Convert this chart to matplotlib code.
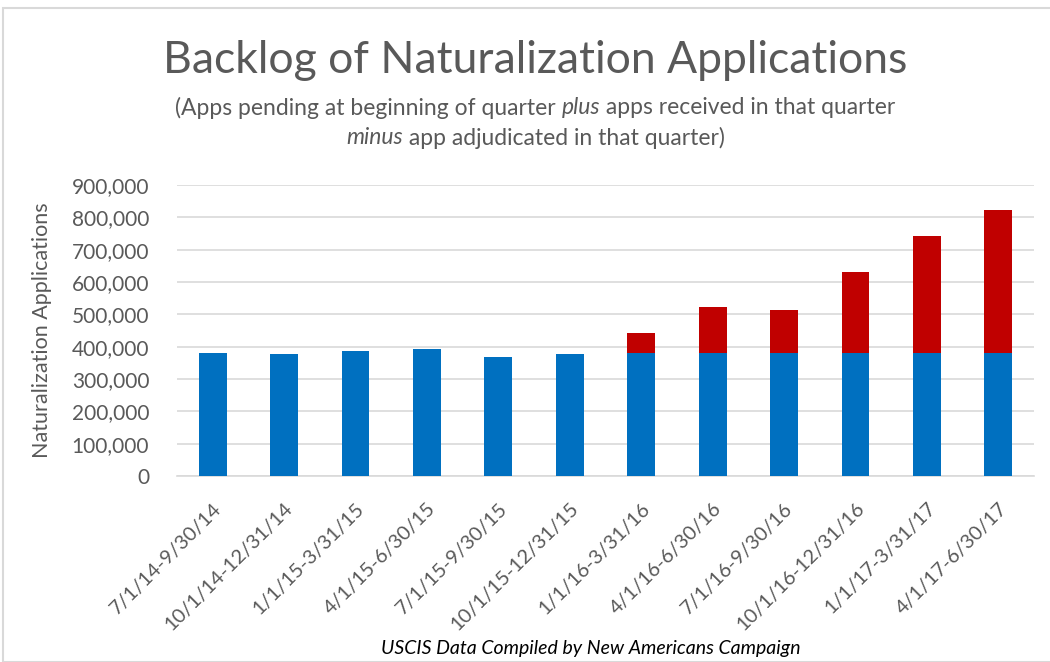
import matplotlib
matplotlib.use('Agg')
import matplotlib.pyplot as plt
from matplotlib.patches import Rectangle
import numpy as np

plt.rcParams['font.family'] = ['Lato', 'DejaVu Sans']

# データ
quarters = ['7/1/14-9/30/14', '10/1/14-12/31/14', '1/1/15-3/31/15', '4/1/15-6/30/15',
            '7/1/15-9/30/15', '10/1/15-12/31/15', '1/1/16-3/31/16', '4/1/16-6/30/16',
            '7/1/16-9/30/16', '10/1/16-12/31/16', '1/1/17-3/31/17', '4/1/17-6/30/17']
base = [380000, 378000, 387000, 393000, 368000, 377000,
        380000, 380000, 380000, 380000, 380000, 380000]
extra = [0, 0, 0, 0, 0, 0, 62000, 143000, 133000, 251000, 361000, 442000]
yticks = [0, 100000, 200000, 300000, 400000, 500000, 600000, 700000, 800000, 900000]

BLUE = '#0070C0'
RED = '#C00000'
GRAY = '#595959'
W, H = 1050, 662

fig = plt.figure(figsize=(10.5, 6.62), dpi=100)
ax = fig.add_axes([177 / W, 0.281, 857 / W, 0.4395])

x = np.arange(len(quarters))
ax.bar(x, base, width=0.39, color=BLUE, zorder=3)
ax.bar(x, extra, width=0.39, bottom=base, color=RED, zorder=3)

ax.set_ylim(0, 900000)
ax.set_xlim(-0.5, len(quarters) - 0.5)
ax.set_yticks(yticks)
ax.set_yticklabels([f'{v:,}' for v in yticks])
ax.yaxis.grid(True, color='#D9D9D9', linewidth=1.2, zorder=0)
ax.set_axisbelow(True)
for s in ['top', 'right', 'left']:
    ax.spines[s].set_visible(False)
ax.spines['bottom'].set_color('#D9D9D9')
ax.spines['bottom'].set_linewidth(1.2)
ax.tick_params(axis='both', length=0, colors=GRAY)
ax.tick_params(axis='y', pad=20, labelsize=15)
ax.set_xticks(x)
ax.set_xticklabels(quarters, rotation=45, ha='right', rotation_mode='anchor')
ax.tick_params(axis='x', pad=17, labelsize=14.5)
ax.set_ylabel('Naturalization Applications', color=GRAY, fontsize=15.5, labelpad=14)

# タイトル
fig.text(0.51, 0.908, 'Backlog of Naturalization Applications', ha='center', va='center',
         fontsize=32, color=GRAY)


def centered_line(parts, y, size):
    # 斜体を含む行を中央揃えで描く
    renderer = fig.canvas.get_renderer()
    texts = []
    for s, style in parts:
        t = fig.text(0, y, s, fontsize=size, color=GRAY, style=style, va='center')
        texts.append(t)
    widths = [t.get_window_extent(renderer).width for t in texts]
    total = sum(widths)
    start = 0.51 * fig.bbox.width - total / 2
    for t, w in zip(texts, widths):
        t.set_x(start / fig.bbox.width)
        start += w


centered_line([('(Apps pending at beginning of quarter ', 'normal'), ('plus', 'italic'),
               (' apps received in that quarter', 'normal')], 0.837, 16.5)
centered_line([('minus', 'italic'), (' app adjudicated in that quarter)', 'normal')], 0.792, 16.5)

fig.text(0.563, 0.02, 'USCIS Data Compiled by New Americans Campaign', ha='center', va='center',
         fontsize=14, style='italic', color='black')

fig.patches.append(Rectangle((3 / W, 0), 1.1, 1 - 8 / H, transform=fig.transFigure,
                             fill=False, edgecolor='#D9D9D9', linewidth=1.5))

fig.savefig('out.png', dpi=100)
